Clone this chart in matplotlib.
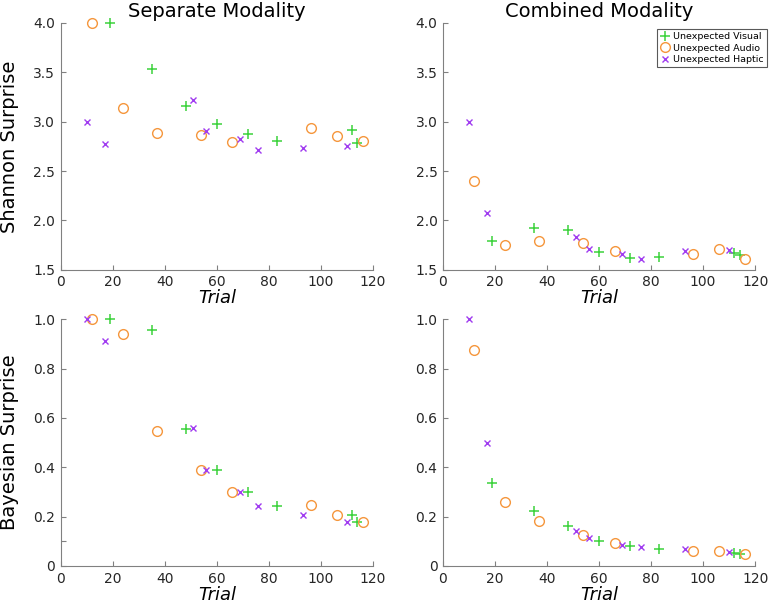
import numpy as np
import matplotlib
matplotlib.use('Agg')
import matplotlib.pyplot as plt

# trial indices for each unexpected modality
trial_visual = [19, 35, 48, 60, 72, 83, 112, 114]
trial_audio = [12, 24, 37, 54, 66, 96, 106, 116]
trial_haptic = [10, 17, 51, 56, 69, 76, 93, 110]

# Shannon surprise, separate modality
sh_sep_visual = [4.0, 3.53, 3.16, 2.98, 2.88, 2.80, 2.92, 2.78]
sh_sep_audio = [4.0, 3.14, 2.89, 2.87, 2.79, 2.94, 2.86, 2.80]
sh_sep_haptic = [3.0, 2.77, 3.22, 2.91, 2.83, 2.71, 2.73, 2.75]

# Shannon surprise, combined modality
sh_comb_visual = [1.79, 1.92, 1.90, 1.68, 1.62, 1.63, 1.67, 1.65]
sh_comb_audio = [2.40, 1.75, 1.79, 1.77, 1.69, 1.66, 1.71, 1.61]
sh_comb_haptic = [3.0, 2.08, 1.83, 1.71, 1.66, 1.61, 1.69, 1.70]

# Bayesian surprise, separate modality
ba_sep_visual = [1.0, 0.957, 0.553, 0.39, 0.30, 0.245, 0.207, 0.18]
ba_sep_audio = [1.0, 0.938, 0.545, 0.387, 0.299, 0.248, 0.208, 0.18]
ba_sep_haptic = [1.0, 0.912, 0.557, 0.388, 0.30, 0.244, 0.206, 0.179]

# Bayesian surprise, combined modality
ba_comb_visual = [0.337, 0.222, 0.162, 0.101, 0.08, 0.07, 0.053, 0.05]
ba_comb_audio = [0.874, 0.26, 0.183, 0.124, 0.093, 0.062, 0.061, 0.049]
ba_comb_haptic = [1.0, 0.497, 0.142, 0.112, 0.087, 0.076, 0.069, 0.057]

c_vis = '#3cd23c'
c_aud = '#f5963c'
c_hap = '#a03cf0'
grey = '#808080'

fig = plt.figure(figsize=(7.69, 6.05), dpi=100)
left = [0.079, 0.576]
width = 0.406
bottom = [0.554, 0.0645]
height = 0.408

panels = [
    (0, 0, sh_sep_visual, sh_sep_audio, sh_sep_haptic),
    (1, 0, sh_comb_visual, sh_comb_audio, sh_comb_haptic),
    (0, 1, ba_sep_visual, ba_sep_audio, ba_sep_haptic),
    (1, 1, ba_comb_visual, ba_comb_audio, ba_comb_haptic),
]

axes = {}
for col, row, v, a, h in panels:
    ax = fig.add_axes([left[col], bottom[row], width, height])
    axes[(col, row)] = ax
    ax.plot(trial_visual, v, '+', color=c_vis, ms=7, mew=1.1, ls='none', clip_on=False, label='Unexpected Visual')
    ax.plot(trial_audio, a, 'o', color=c_aud, mfc='none', ms=7, mew=1.0, ls='none', clip_on=False, label='Unexpected Audio')
    ax.plot(trial_haptic, h, 'x', color=c_hap, ms=5, mew=1.0, ls='none', clip_on=False, label='Unexpected Haptic')
    ax.set_xlim(0, 120)
    ax.set_xticks(np.arange(0, 121, 20))
    for s in ['top', 'right']:
        ax.spines[s].set_visible(False)
    for s in ['left', 'bottom']:
        ax.spines[s].set_color(grey)
        ax.spines[s].set_linewidth(0.8)
    ax.tick_params(direction='in', length=3.5, width=0.8, color=grey, labelsize=10, labelcolor='#262626', pad=4)
    ax.set_xlabel('Trial', fontsize=13, style='italic', labelpad=0)
    if row == 0:
        ax.set_ylim(1.5, 4.0)
        ax.set_yticks(np.arange(1.5, 4.01, 0.5))
        ax.set_yticklabels(['1.5', '2.0', '2.5', '3.0', '3.5', '4.0'])
    else:
        ax.set_ylim(0, 1.0)
        ax.set_yticks([0, 0.2, 0.4, 0.6, 0.8, 1.0])
        ax.set_yticklabels(['0', '0.2', '0.4', '0.6', '0.8', '1.0'])

axes[(0, 1)].set_yticks([0.1], minor=True)
axes[(0, 1)].tick_params(which='minor', direction='in', length=3.5, width=0.8, color=grey)

axes[(0, 0)].set_title('Separate Modality', fontsize=14, pad=4)
axes[(1, 0)].set_title('Combined Modality', fontsize=14, pad=4)
axes[(0, 0)].set_ylabel('Shannon Surprise', fontsize=14, labelpad=10)
axes[(0, 1)].set_ylabel('Bayesian Surprise', fontsize=14, labelpad=10)

leg = axes[(1, 0)].legend(loc='upper right', bbox_to_anchor=(767 / 769, 1 - 29 / 605),
                          bbox_transform=fig.transFigure, fontsize=6.8, frameon=True, fancybox=False,
                          handlelength=1.0, handletextpad=0.4, borderpad=0.35,
                          labelspacing=0.25, borderaxespad=0)
leg.get_frame().set_edgecolor('#303030')
leg.get_frame().set_linewidth(0.8)

fig.savefig('out.png', dpi=100)
